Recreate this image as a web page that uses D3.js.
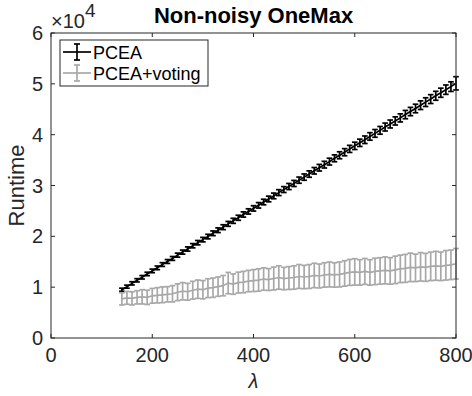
<!DOCTYPE html>
<html><head><meta charset="utf-8">
<script src="https://cdn.jsdelivr.net/npm/d3@7"></script>
<style>body{margin:0;background:#fff}svg{display:block}text{font-family:"Liberation Sans",Arial,sans-serif}</style>
</head><body>
<svg id="c" width="472" height="396"></svg>
<script>
const lambdas = d3.range(140, 801, 10);
const pceaMean = [9500,10100,10750,11350,11950,12600,13200,13800,14450,15050,15650,16300,16900,17500,18150,18750,19350,19950,20600,21200,21800,22450,23050,23650,24300,24900,25500,26100,26750,27350,27950,28600,29200,29800,30400,31050,31650,32250,32900,33500,34100,34700,35350,35950,36550,37200,37800,38400,39000,39650,40250,40850,41500,42100,42700,43300,43950,44550,45150,45800,46400,47000,47650,48250,48850,49450,50100];
const pceaErr = [300,300,320,320,340,340,350,360,370,380,380,400,400,420,420,430,440,450,460,460,480,480,500,500,520,520,530,540,550,560,560,580,580,600,600,610,620,630,640,650,660,670,680,690,700,700,720,720,740,740,760,760,780,780,800,800,820,820,840,850,860,870,880,900,920,950,1300];
const votingMean = [7700,7900,7800,8000,8100,8000,8300,8400,8500,8600,8700,9000,9200,9100,9400,9600,9500,9800,9900,10100,10300,10800,10600,10900,11000,11200,11300,11400,11600,11500,11700,11900,11700,11800,11900,12100,12000,12100,12300,12200,12400,12500,12400,12500,12700,12900,13000,12900,13100,12900,13100,13200,13300,13200,13400,13600,13700,13900,13800,14000,13900,14100,14200,14100,14300,14400,14600];
const votingErr = [1200,1250,1300,1300,1400,1400,1450,1500,1550,1500,1600,1650,1700,1650,1750,1800,1800,1850,1900,1900,2000,2100,2000,2050,2100,2100,2150,2200,2200,2150,2250,2300,2200,2250,2300,2350,2300,2350,2400,2350,2400,2450,2400,2450,2500,2550,2600,2500,2550,2500,2600,2600,2650,2600,2700,2700,2750,2800,2700,2800,2750,2800,2850,2800,2900,2900,3000];
const xTicks = [0,200,400,600,800];
const yTicks = [0,1,2,3,4,5,6];
const series = [
  {name:"PCEA", mean:pceaMean, err:pceaErr, color:"#000000"},
  {name:"PCEA+voting", mean:votingMean, err:votingErr, color:"#a8a8a8"}
];

const svg = d3.select("#c");
const L=51, R=456, T=33, B=338;
const x = d3.scaleLinear().domain([0,800]).range([L,R]);
const y = d3.scaleLinear().domain([0,60000]).range([B,T]);
const axc = "#262626";

series.forEach(s=>{
  const g = svg.append("g").attr("stroke", s.color).attr("stroke-width",1.7).attr("fill","none");
  const line = d3.line().x((d,i)=>x(lambdas[i])).y(d=>y(d));
  g.append("path").attr("d", line(s.mean));
  const cw = 2.8;
  lambdas.forEach((l,i)=>{
    const xx = x(l), y1 = y(s.mean[i]-s.err[i]), y2 = y(s.mean[i]+s.err[i]);
    g.append("line").attr("x1",xx).attr("x2",xx).attr("y1",y1).attr("y2",y2);
    g.append("line").attr("x1",xx-cw).attr("x2",xx+cw).attr("y1",y1).attr("y2",y1);
    g.append("line").attr("x1",xx-cw).attr("x2",xx+cw).attr("y1",y2).attr("y2",y2);
  });
});

// axes box
const ax = svg.append("g");
ax.append("rect").attr("x",L).attr("y",T).attr("width",R-L).attr("height",B-T)
  .attr("fill","none").attr("stroke",axc).attr("stroke-width",1);
const tl = 4;
xTicks.forEach(t=>{
  ax.append("line").attr("x1",x(t)).attr("x2",x(t)).attr("y1",B).attr("y2",B-tl).attr("stroke",axc);
  ax.append("line").attr("x1",x(t)).attr("x2",x(t)).attr("y1",T).attr("y2",T+tl).attr("stroke",axc);
  ax.append("text").attr("x",x(t)).attr("y",B+24).attr("text-anchor","middle")
    .attr("font-size",20).attr("fill",axc).text(t);
});
yTicks.forEach(t=>{
  const yy = y(t*10000);
  ax.append("line").attr("x1",L).attr("x2",L+tl).attr("y1",yy).attr("y2",yy).attr("stroke",axc);
  ax.append("line").attr("x1",R).attr("x2",R-tl).attr("y1",yy).attr("y2",yy).attr("stroke",axc);
  ax.append("text").attr("x",L-8).attr("y",yy+7).attr("text-anchor","end")
    .attr("font-size",20).attr("fill",axc).text(t);
});
// exponent
const ex = ax.append("text").attr("x",51).attr("y",28).attr("font-size",20).attr("fill",axc);
ex.append("tspan").text("×10");
ex.append("tspan").attr("dy",-11).attr("font-size",19).text("4");

// labels
svg.append("text").attr("x",(L+R)/2).attr("y",23).attr("text-anchor","middle")
  .attr("font-size",22).attr("font-weight","bold").attr("fill","#000").text("Non-noisy OneMax");
svg.append("text").attr("x",(L+R)/2).attr("y",388).attr("text-anchor","middle")
  .attr("font-size",20).attr("font-style","italic").attr("fill",axc).text("λ");
svg.append("text").attr("transform",`translate(24,${(T+B)/2}) rotate(-90)`).attr("text-anchor","middle")
  .attr("font-size",22).attr("fill",axc).text("Runtime");

// legend
const lg = svg.append("g");
lg.append("rect").attr("x",60).attr("y",40).attr("width",148).attr("height",46)
  .attr("fill","#fff").attr("stroke",axc).attr("stroke-width",1);
series.forEach((s,i)=>{
  const cy = 52 + i*21;
  const g = lg.append("g").attr("stroke",s.color).attr("stroke-width",1.7);
  g.append("line").attr("x1",63).attr("x2",91).attr("y1",cy).attr("y2",cy);
  g.append("line").attr("x1",77).attr("x2",77).attr("y1",cy-8).attr("y2",cy+8);
  g.append("line").attr("x1",74).attr("x2",80).attr("y1",cy-8).attr("y2",cy-8);
  g.append("line").attr("x1",74).attr("x2",80).attr("y1",cy+8).attr("y2",cy+8);
  lg.append("text").attr("x",93).attr("y",cy+7).attr("font-size",18).attr("fill","#000").text(s.name);
});
</script>
</body></html>
